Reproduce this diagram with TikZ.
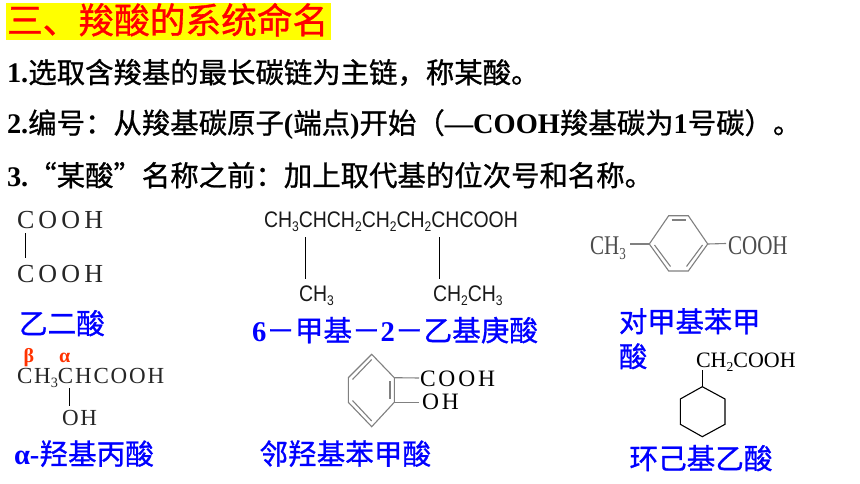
\documentclass[tikz,border=0pt]{standalone}
\usepackage{graphicx}
\usepackage{fontspec}
\setmainfont{Liberation Serif}
\newfontfamily\cjk[FakeBold=0.9]{Noto Sans CJK SC}
\newfontfamily\lat{Liberation Serif}
\newfontfamily\latb{Liberation Serif Bold}
\newfontfamily\chemA[LetterSpace=16]{Liberation Serif}
\newfontfamily\chemB[LetterSpace=12]{Liberation Serif}
\newfontfamily\chemD[LetterSpace=8]{Liberation Serif}
\newfontfamily\chemN[FakeStretch=0.78]{Liberation Serif}
\newfontfamily\sansN[FakeStretch=0.865]{Liberation Sans}
\newcommand{\fs}[1]{\fontsize{#1}{#1}\selectfont}
\newcommand{\sbs}[1]{\raisebox{-0.2em}{\scalebox{0.62}{#1}}}
\definecolor{hdred}{HTML}{FF0000}
\definecolor{hdyel}{HTML}{FFFF00}
\definecolor{lblue}{HTML}{0000FF}
\definecolor{greek}{HTML}{FF3300}
\definecolor{ringg}{HTML}{808080}
\tikzset{
  txt/.style={anchor=base west,inner sep=0pt,outer sep=0pt},
  heading/.style={txt,text=hdred,font=\cjk\fs{35.7}},
  rule/.style={txt,text=black,font=\cjk\fs{28.4}},
  namelab/.style={txt,text=lblue,font=\cjk\fs{28.6}},
  chema/.style={txt,text=black!85,font=\chemA\fs{26}},
  chemb/.style={txt,text=black!85,font=\chemD\fs{23}},
  chemc/.style={txt,text=black,font=\chemB\fs{23.5}},
  sansf/.style={txt,text=black!90,font=\sansN\fs{22.5}},
  narrow/.style={txt,text=black!70,font=\chemN\fs{27}},
  greeklab/.style={txt,text=greek,font=\latb\fs{20}},
  bond/.style={draw=black,line width=0.9pt},
  ringbond/.style={draw=ringg,line width=1.1pt},
  ringblack/.style={draw=black,line width=1.1pt}
}
\begin{document}
\begin{tikzpicture}[x=1pt,y=-1pt]
\useasboundingbox[fill=white] (0,0) rectangle (860,484);
% heading
\fill[hdyel] (6,3) rectangle (331,40);
\node[heading] (title) at (7,33.5) {三、羧酸的系统命名};
% rules
\node[rule] (r1) at (7,83) {{\latb 1.}选取含羧基的最长碳链为主链，称某酸。};
\node[rule] (r2) at (7,133.5) {{\latb 2.}编号：从羧基碳原子{\latb (}端点{\latb )}开始（{\latb —COOH}羧基碳为{\latb 1}号碳）。};
\node[rule] (r3) at (7,186) {{\latb 3.}“某酸”名称之前：加上取代基的位次号和名称。};
% oxalic acid
\node[chema] (ox1) at (17,228) {COOH};
\node[chema] (ox2) at (17,282) {COOH};
\coordinate (ox1b) at (25,233); \coordinate (ox2t) at (25,258);
\draw[bond] (ox1b) -- (ox2t);
\node[namelab] (n1) at (19,334) {乙二酸};
% 6-methyl-2-ethylheptanoic
\node[sansf] (hept) at (264,227) {CH\sbs{3}CHCH\sbs{2}CH\sbs{2}CH\sbs{2}CHCOOH};
\node[sansf] (me) at (299,301) {CH\sbs{3}};
\node[sansf] (et) at (433,301) {CH\sbs{2}CH\sbs{3}};
\coordinate (h1) at (305,237); \coordinate (h2) at (305,279);
\coordinate (h3) at (439,237); \coordinate (h4) at (439,279);
\draw[bond] (h1) -- (h2);
\draw[bond] (h3) -- (h4);
\node[namelab] (n2) at (252,341) {{\latb 6}－甲基－{\latb 2}－乙基庚酸};
% p-toluic
\node[narrow] (tch) at (590,254) {CH\sbs{3}};
\node[narrow] (tco) at (728,254) {COOH};
\coordinate (a1) at (649.3,244); \coordinate (a2) at (668.7,215.7); \coordinate (a3) at (688.3,215.7);
\coordinate (a4) at (707.7,244); \coordinate (a5) at (688.3,271); \coordinate (a6) at (668.7,271);
\coordinate (ab1) at (630,244); \coordinate (ab2) at (726,243.5);
\draw[ringbond] (a1)--(a2)--(a3)--(a4)--(a5)--(a6)--cycle;
\draw[ringbond] (671.5,220) -- (685.5,220);
\draw[ringbond] (654.5,245) -- (670.5,266.5);
\draw[ringbond] (702.5,245) -- (686.5,266.5);
\draw[ringbond] (ab1) -- (a1);
\draw[ringbond] (a4) -- (ab2);
\node[namelab,font=\cjk\fs{28.3}] (n3) at (619,332) {对甲基苯甲};
\node[namelab,font=\cjk\fs{28.3}] (n3b) at (619,367) {酸};
% lactic
\node[greeklab] (beta) at (23.5,362) {β};
\node[greeklab] (alpha) at (59,362) {α};
\node[chemb] (lac) at (17,383) {CH\sbs{3}CHCOOH};
\node[chemb] (loh) at (62,425) {OH};
\coordinate (l1) at (69.5,388); \coordinate (l2) at (69.5,406);
\draw[bond] (l1) -- (l2);
\node[namelab] (n4) at (14,464.5) {{\latb α-}羟基丙酸};
% salicylic
\node[chemc] (sco) at (420,386.7) {COOH};
\node[chemc] (soh) at (422,409) {OH};
\coordinate (s1) at (371.7,354.3); \coordinate (s2) at (394.3,377.7); \coordinate (s3) at (394.3,402.3);
\coordinate (s4) at (371.7,426.7); \coordinate (s5) at (348.3,402.3); \coordinate (s6) at (348.3,377.7);
\coordinate (sb1) at (419,378); \coordinate (sb2) at (419,402.3);
\draw[ringbond] (s1)--(s2)--(s3)--(s4)--(s5)--(s6)--cycle;
\draw[ringbond] (352.5,379.5) -- (371.7,359.5);
\draw[ringbond] (390,381) -- (390,399);
\draw[ringbond] (352.5,400.5) -- (371.7,421);
\draw[ringbond] (s2) -- (sb1);
\draw[ringbond] (s3) -- (sb2);
\node[namelab] (n5) at (259.5,464.5) {邻羟基苯甲酸};
% cyclohexylacetic
\node[txt,text=black,font=\lat\fs{22}] (cch) at (696,367) {CH\sbs{2}COOH};
\coordinate (c1) at (702.3,386.7); \coordinate (c2) at (725,399); \coordinate (c3) at (725,424.3);
\coordinate (c4) at (702.3,436.7); \coordinate (c5) at (680.3,424.3); \coordinate (c6) at (680.3,399);
\coordinate (cb) at (702.3,370);
\draw[ringblack] (c1)--(c2)--(c3)--(c4)--(c5)--(c6)--cycle;
\draw[ringblack] (cb) -- (c1);
\node[namelab] (n6) at (629.5,469) {环己基乙酸};
\end{tikzpicture}
\end{document}
